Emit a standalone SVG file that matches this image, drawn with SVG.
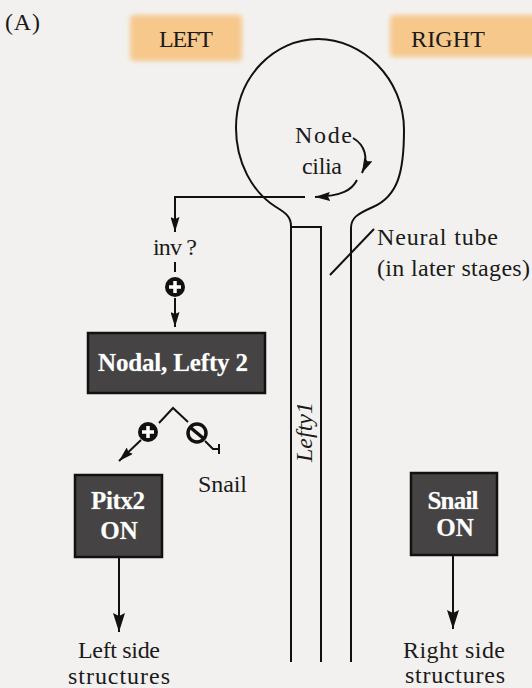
<svg xmlns="http://www.w3.org/2000/svg" width="532" height="688" viewBox="0 0 532 688">
  <defs>
    <marker id="arrow" viewBox="0 0 15 9" refX="15" refY="4.5" markerWidth="15" markerHeight="9" markerUnits="userSpaceOnUse" orient="auto">
      <path d="M0,0 L15,4.5 L0,9 L2,4.5 z" fill="#111"/>
    </marker>
    <marker id="arrow-big" viewBox="0 0 19 12" refX="19" refY="6" markerWidth="19" markerHeight="12" markerUnits="userSpaceOnUse" orient="auto">
      <path d="M0,0 L19,6 L0,12 L3,6 z" fill="#111"/>
    </marker>
    <filter id="soft" x="-10%" y="-20%" width="120%" height="140%">
      <feGaussianBlur stdDeviation="2.5"/>
    </filter>
    <style>
      .txt { font-family: "Liberation Serif", "Times New Roman", serif; font-size: 24px; fill: #1a1a1a; }
      .btxt { font-family: "Liberation Serif", "Times New Roman", serif; font-size: 25px; font-weight: bold; fill: #ffffff; stroke: #888; stroke-width: 0.6px; paint-order: stroke; }
      .line { fill: none; stroke: #111; stroke-width: 2; }
      .box { fill: #454343; stroke: #111; stroke-width: 2.5; }
      .hl { fill: #f6c88c; filter: url(#soft); }
    </style>
  </defs>

  <rect x="0" y="0" width="532" height="688" fill="#f3f1ef"/>

  <g id="panel-label">
    <text class="txt" x="5" y="30" textLength="35">(A)</text>
  </g>

  <g id="left-label">
    <rect class="hl" x="130" y="15" width="112" height="46" rx="4"/>
    <text class="txt" x="159" y="47" textLength="54">LEFT</text>
  </g>
  <g id="right-label">
    <rect class="hl" x="390" y="15" width="150" height="42" rx="4"/>
    <text class="txt" x="411" y="47" textLength="74">RIGHT</text>
  </g>

  <g id="embryo">
    <path class="line" d="M 291 662 L 291 226 C 291 216 284 212 276 207 C 252 192 236 162 236 128 C 236 76 275 39 318 39 C 362 39 404 78 404 130 C 404 172 398 196 373 207 C 357 214 351 218 351 228 L 351 662"/>
    <path class="line" d="M 292 227 L 321 227 L 321 662"/>
    <text class="txt" font-style="italic" transform="translate(312,432) rotate(-90)" text-anchor="middle" textLength="60">Lefty1</text>
  </g>

  <g id="node-cilia">
    <text class="txt" x="295" y="143" textLength="57">Node</text>
    <text class="txt" x="302" y="174" textLength="40">cilia</text>
  </g>

  <g id="neural-tube-label">
    <text class="txt" x="377" y="245" textLength="121">Neural tube</text>
    <text class="txt" x="377" y="276" textLength="153">(in later stages)</text>
  </g>

  <g id="inv">
    <text class="txt" x="153" y="255" textLength="44">inv ?</text>
  </g>

  <g id="plus1">
    <circle cx="175" cy="287" r="10" fill="#111"/>
    <path d="M 169 287 L 181 287 M 175 281 L 175 293" stroke="#fff" stroke-width="3.5"/>
  </g>

  <g id="nodal-lefty2">
    <rect class="box" x="88" y="333" width="177" height="60"/>
    <text class="btxt" x="173" y="371" text-anchor="middle" textLength="150">Nodal, Lefty 2</text>
  </g>

  <g id="plus2">
    <circle cx="148" cy="432" r="10" fill="#111"/>
    <path d="M 142 432 L 154 432 M 148 426 L 148 438" stroke="#fff" stroke-width="3.5"/>
  </g>

  <g id="minus">
    <circle cx="197" cy="433" r="9" fill="#f3f1ef" stroke="#111" stroke-width="3.5"/>
    <path d="M 191 428 L 203 438" stroke="#111" stroke-width="3.5"/>
  </g>

  <g id="snail-label">
    <text class="txt" x="198" y="492" textLength="49">Snail</text>
  </g>

  <g id="pitx2">
    <rect class="box" x="75" y="475" width="87" height="82"/>
    <text class="btxt" x="118" y="509" text-anchor="middle" textLength="54">Pitx2</text>
    <text class="btxt" x="119" y="539" text-anchor="middle">ON</text>
  </g>

  <g id="snail-on">
    <rect class="box" x="411" y="473" width="86" height="82"/>
    <text class="btxt" x="453" y="509" text-anchor="middle" textLength="51">Snail</text>
    <text class="btxt" x="455" y="536" text-anchor="middle">ON</text>
  </g>

  <g id="left-structures">
    <text class="txt" x="119" y="658" text-anchor="middle" textLength="82">Left side</text>
    <text class="txt" x="119" y="684" text-anchor="middle" textLength="102">structures</text>
  </g>

  <g id="right-structures">
    <text class="txt" x="454" y="658" text-anchor="middle" textLength="102">Right side</text>
    <text class="txt" x="455" y="683" text-anchor="middle" textLength="100">structures</text>
  </g>

  <g id="connectors">
    <path class="line" d="M 353 138 C 365 145 369 158 362 173" marker-end="url(#arrow)"/>
    <path class="line" d="M 357 180 C 352 190 342 196 315 197" marker-end="url(#arrow)"/>
    <path class="line" d="M 305 197 L 175 197 L 175 232" marker-end="url(#arrow)"/>
    <path class="line" d="M 175 262 L 175 272"/>
    <path class="line" d="M 175 298 L 175 327" marker-end="url(#arrow)"/>
    <path class="line" d="M 159 423 L 173 408 L 188 422"/>
    <path class="line" d="M 141 440 L 119 461" marker-end="url(#arrow)"/>
    <path class="line" d="M 205 441 L 213 449 L 219 449 M 219 444 L 219 454"/>
    <path class="line" d="M 330 275 L 374 229"/>
    <path class="line" d="M 119 557 L 119 632" marker-end="url(#arrow-big)"/>
    <path class="line" d="M 453 555 L 453 629" marker-end="url(#arrow-big)"/>
  </g>
</svg>
